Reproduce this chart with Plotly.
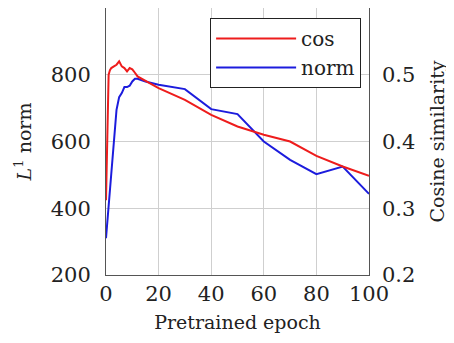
import plotly.graph_objects as go

# cos similarity (right axis)
cos_epoch = [0, 1, 1.5, 2, 3, 4, 5, 6, 7, 8, 9, 10, 11, 12, 20, 30, 40, 50, 60, 70, 80, 90, 100]
cos_value = [0.312, 0.50, 0.507, 0.51, 0.5125, 0.515, 0.52, 0.5125, 0.51, 0.505, 0.51, 0.508, 0.503, 0.4975,
             0.48, 0.4625, 0.44, 0.4225, 0.41, 0.40, 0.3785, 0.3625, 0.3485]

# L1 norm (left axis)
norm_epoch = [0, 1, 2, 3, 4, 5, 6, 7, 8, 9, 10, 11, 12, 15, 20, 30, 40, 50, 60, 70, 80, 90, 100]
norm_value = [310, 405, 505, 605, 695, 733, 745, 763, 763, 767, 780, 788, 788, 780, 770, 757, 697, 682,
              600, 545, 502, 525, 443]

left_ticks = [200, 400, 600, 800]
right_ticks = [0.2, 0.3, 0.4, 0.5]
x_ticks = [0, 20, 40, 60, 80, 100]

FONT = "DejaVu Serif"

fig = go.Figure()
fig.add_trace(go.Scatter(x=cos_epoch, y=cos_value, name="cos", mode="lines",
                         line=dict(color="#ee1c1c", width=2), yaxis="y2"))
fig.add_trace(go.Scatter(x=norm_epoch, y=norm_value, name="norm", mode="lines",
                         line=dict(color="#1c1cdd", width=2), yaxis="y"))

# page body has an 8px default margin, so the figure is offset by 8px
fig.update_layout(
    width=446, height=335,
    margin=dict(l=98, r=85, t=0, b=68),
    paper_bgcolor="white", plot_bgcolor="white",
    font=dict(family=FONT, color="#222", size=20),
    showlegend=True,
    legend=dict(x=0.97, y=0.963, xanchor="right", yanchor="top",
                bordercolor="#222", borderwidth=1, bgcolor="white",
                font=dict(family=FONT, size=20), itemwidth=80,
                tracegroupgap=0),
    xaxis=dict(range=[0, 100], tickvals=x_ticks, showgrid=True, gridcolor="#cfcfcf",
               zeroline=False, showline=True, linecolor="#555", mirror=True,
               ticks="", tickfont=dict(size=21), automargin=False,
               title=dict(text="Pretrained epoch", font=dict(size=19), standoff=10)),
    yaxis=dict(range=[200, 1000], tickvals=left_ticks, showgrid=True, gridcolor="#cfcfcf",
               zeroline=False, showline=True, linecolor="#555", mirror=True,
               ticks="", tickfont=dict(size=21), automargin=False, ticklabelstandoff=10,
               title=dict(text="<i>L</i><sup>1</sup> norm", font=dict(size=19), standoff=14)),
    yaxis2=dict(range=[0.2, 0.6], tickvals=right_ticks, overlaying="y", side="right",
                showgrid=False, zeroline=False, ticks="", tickfont=dict(size=21),
                tickformat=".1f", automargin=False, ticklabelstandoff=12,
                title=dict(text="Cosine similarity", font=dict(size=19), standoff=16)),
)

fig.write_html("out.html")
